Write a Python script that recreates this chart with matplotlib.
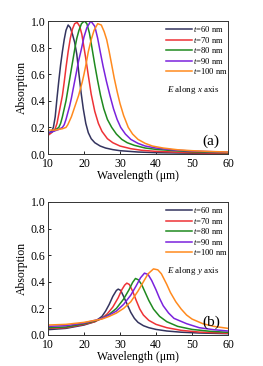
import numpy as np
import matplotlib
matplotlib.use("Agg")
import matplotlib.pyplot as plt

plt.rcParams['font.family'] = ['Liberation Serif', 'DejaVu Serif']
plt.rcParams['mathtext.fontset'] = 'custom'
plt.rcParams['mathtext.rm'] = 'Liberation Serif'
plt.rcParams['mathtext.it'] = 'Liberation Serif:italic'

labels = ['$t$=60 nm', '$t$=70 nm', '$t$=80 nm', '$t$=90 nm', '$t$=100 nm']
colors = ['#34345f', '#ee3236', '#1f8a1f', '#7a22dd', '#ff8a1e']

# panel (a): E along x
wl_a60 = [10, 11, 11.5, 12, 12.5, 13, 13.5, 14, 14.5, 15, 15.6, 16.2, 16.8, 17.4, 18, 18.6,
          19.2, 19.8, 20.5, 21.2, 22, 23, 24.5, 26, 28, 30, 35, 40, 50, 60]
ab_a60 = [0.15, 0.17, 0.2, 0.28, 0.42, 0.55, 0.67, 0.77, 0.86, 0.93, 0.97, 0.95, 0.9, 0.84, 0.75, 0.6,
          0.46, 0.34, 0.23, 0.16, 0.115, 0.085, 0.06, 0.045, 0.033, 0.025, 0.015, 0.01, 0.006, 0.004]
wl_a70 = [10, 11, 12, 12.5, 13, 13.5, 14, 14.5, 15, 15.6, 16.2, 16.8, 17.4, 18.1, 18.8, 19.4, 20,
          20.6, 21.2, 22, 23, 24, 25, 26.5, 28, 30, 33, 36, 40, 50, 60]
ab_a70 = [0.14, 0.16, 0.19, 0.23, 0.3, 0.37, 0.44, 0.54, 0.65, 0.77, 0.87, 0.94, 0.98, 0.99, 0.96, 0.9, 0.8,
          0.7, 0.59, 0.45, 0.32, 0.23, 0.17, 0.115, 0.085, 0.06, 0.04, 0.028, 0.02, 0.01, 0.006]
wl_a80 = [10, 11, 12, 13, 13.5, 14, 14.5, 15, 15.5, 16, 16.5, 17, 17.5, 18, 18.6, 19.3, 20.1, 20.8,
          21.5, 22.2, 23, 23.8, 24.6, 25.5, 26.5, 27.7, 29, 30.5, 32, 34, 37, 40, 45, 50, 60]
ab_a80 = [0.16, 0.165, 0.18, 0.2, 0.23, 0.28, 0.34, 0.4, 0.48, 0.56, 0.64, 0.72, 0.8, 0.87, 0.93, 0.98, 1.0, 0.98,
          0.91, 0.8, 0.67, 0.55, 0.44, 0.34, 0.26, 0.2, 0.15, 0.11, 0.085, 0.065, 0.045, 0.035, 0.025, 0.017, 0.01]
wl_a90 = [10, 11, 12, 13, 14, 14.5, 15, 15.5, 16, 16.5, 17, 17.5, 18, 18.5, 19.2, 20, 20.8, 21.9, 23,
          23.8, 24.5, 25.3, 26.2, 27.2, 28.2, 29.2, 30.2, 31.5, 33, 35, 37, 40, 45, 50, 60]
ab_a90 = [0.16, 0.165, 0.175, 0.185, 0.2, 0.22, 0.26, 0.31, 0.36, 0.42, 0.49, 0.56, 0.63, 0.7, 0.78, 0.88, 0.95, 1.0, 0.96,
          0.87, 0.77, 0.66, 0.55, 0.44, 0.34, 0.26, 0.2, 0.15, 0.11, 0.08, 0.06, 0.045, 0.03, 0.022, 0.014]
wl_a100 = [10, 11, 12, 13, 14, 15, 15.5, 16, 16.5, 17, 17.5, 18, 18.5, 19, 19.5, 20, 20.6, 21.2, 22, 22.8,
           23.8, 24.8, 25.6, 26.3, 27, 27.7, 28.4, 29.2, 30, 31, 32.3, 33.5, 35, 37, 39, 42, 46, 50, 55, 60]
ab_a100 = [0.18, 0.18, 0.18, 0.185, 0.19, 0.2, 0.22, 0.25, 0.28, 0.32, 0.36, 0.4, 0.44, 0.49, 0.54, 0.6, 0.68, 0.77, 0.86, 0.93,
           0.98, 0.97, 0.92, 0.86, 0.77, 0.67, 0.57, 0.47, 0.38, 0.29, 0.2, 0.15, 0.11, 0.08, 0.06, 0.045, 0.032, 0.025, 0.019, 0.015]

# panel (b): E along y
wl_b60 = [10, 15, 20, 23, 25, 26, 27, 28, 29, 29.5, 30.2, 31, 32, 33, 34, 35, 36.5, 38, 40, 43, 47, 52, 60]
ab_b60 = [0.04, 0.05, 0.075, 0.1, 0.14, 0.18, 0.23, 0.29, 0.335, 0.345, 0.335, 0.29, 0.23, 0.17, 0.125, 0.095,
          0.07, 0.055, 0.042, 0.03, 0.021, 0.015, 0.01]
wl_b70 = [10, 15, 20, 23, 25, 26.5, 28, 29.5, 30.5, 31.3, 31.9, 32.6, 33.5, 34.5, 35.5, 36.5, 38, 40, 43, 47, 52, 60]
ab_b70 = [0.05, 0.055, 0.08, 0.1, 0.125, 0.16, 0.21, 0.28, 0.34, 0.375, 0.39, 0.38, 0.33, 0.26, 0.195, 0.15,
          0.11, 0.08, 0.055, 0.035, 0.022, 0.013]
wl_b80 = [10, 15, 20, 23, 25, 27, 29, 31, 32.5, 33.5, 34.3, 35.1, 36, 37, 38, 39.3, 41, 43, 46, 50, 55, 60]
ab_b80 = [0.055, 0.06, 0.085, 0.105, 0.125, 0.155, 0.2, 0.27, 0.34, 0.395, 0.425, 0.415, 0.38, 0.32, 0.26, 0.195,
          0.14, 0.1, 0.065, 0.042, 0.028, 0.02]
wl_b90 = [10, 15, 20, 23, 25, 27, 29, 31, 33, 34.5, 35.7, 36.8, 37.8, 38.8, 40, 41, 42, 43.5, 45, 48.5, 52, 56, 60]
ab_b90 = [0.065, 0.07, 0.09, 0.11, 0.125, 0.15, 0.18, 0.23, 0.3, 0.37, 0.43, 0.465, 0.455, 0.41, 0.34, 0.275,
          0.22, 0.165, 0.125, 0.085, 0.055, 0.04, 0.03]
wl_b100 = [10, 15, 20, 23, 25, 27, 29, 31, 33, 35, 36.5, 37.8, 39.3, 40.5, 41.5, 43, 44, 45.5, 47, 48.5, 50, 53, 56, 60]
ab_b100 = [0.075, 0.08, 0.095, 0.11, 0.12, 0.14, 0.165, 0.2, 0.25, 0.33, 0.4, 0.46, 0.497, 0.49, 0.46, 0.38, 0.32,
           0.25, 0.195, 0.15, 0.12, 0.085, 0.065, 0.05]

panels = [
    ([wl_a60, wl_a70, wl_a80, wl_a90, wl_a100], [ab_a60, ab_a70, ab_a80, ab_a90, ab_a100],
     '$E$ along $x$ axis', '(a)', [0.1825, 0.5792, 0.6844, 0.3634]),
    ([wl_b60, wl_b70, wl_b80, wl_b90, wl_b100], [ab_b60, ab_b70, ab_b80, ab_b90, ab_b100],
     '$E$ along $y$ axis', '(b)', [0.1825, 0.0847, 0.6844, 0.3634]),
]

fig = plt.figure(figsize=(2.63, 3.66), dpi=100)
for wls, abs_, note, tag, rect in panels:
    ax = fig.add_axes(rect)
    for wl, ab, c, lab in zip(wls, abs_, colors, labels):
        ax.plot(wl, ab, color=c, lw=1.1, label=lab)
    ax.set_xlim(10, 60)
    ax.set_ylim(0, 1.0)
    ax.set_xticks([10, 20, 30, 40, 50, 60])
    ax.set_yticks(np.arange(0, 1.01, 0.2))
    ax.set_yticklabels(['%.1f' % v for v in np.arange(0, 1.01, 0.2)])
    ax.tick_params(direction='in', length=2.5, width=0.6, labelsize=8.5)
    ax.tick_params(axis='x', pad=3)
    ax.tick_params(axis='y', pad=2)
    for s in ax.spines.values():
        s.set_linewidth(0.7)
        s.set_color('#333333')
    ax.set_xlabel('Wavelength (μm)', fontsize=8.5, labelpad=0)
    ax.set_ylabel('Absorption', fontsize=8.5, labelpad=2)
    ax.legend(loc='upper left', bbox_to_anchor=(0.655, 0.975), frameon=False, fontsize=6.2,
              handlelength=3.0, handletextpad=0.15, labelspacing=0.05, borderaxespad=0,
              borderpad=0)
    ax.text(0.66, 0.48, note, transform=ax.transAxes, fontsize=6.5, va='center')
    ax.text(0.86, 0.07, tag, transform=ax.transAxes, fontsize=11)

fig.savefig('out.png', dpi=100)
